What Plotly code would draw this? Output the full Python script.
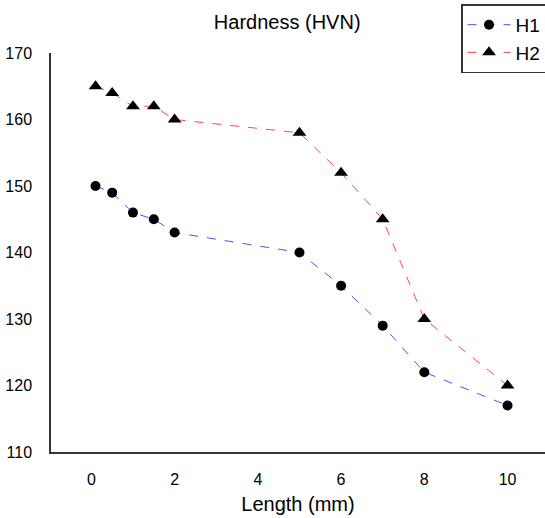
import plotly.graph_objects as go

length_mm = [0.1, 0.5, 1, 1.5, 2, 5, 6, 7, 8, 10]
h1 = [150, 149, 146, 145, 143, 140, 135, 129, 122, 117]
h2 = [165, 164, 162, 162, 160, 158, 152, 145, 130, 120]

fig = go.Figure()
fig.add_trace(go.Scatter(
    x=length_mm, y=h1, name="H1", mode="lines+markers",
    line=dict(color="rgb(80,80,255)", width=1, dash="dash"),
    marker=dict(symbol="circle", size=10, color="black"),
))
fig.add_trace(go.Scatter(
    x=length_mm, y=h2, name="H2", mode="lines+markers",
    line=dict(color="rgb(255,70,70)", width=1, dash="dash"),
    marker=dict(symbol="triangle-up", size=12, color="black"),
))

fig.update_layout(
    width=545, height=518,
    margin=dict(l=51, r=0, t=53, b=66, autoexpand=False),
    paper_bgcolor="white", plot_bgcolor="white",
    font=dict(family="Liberation Sans, Arial, sans-serif", color="black"),
    title=dict(text="Hardness (HVN)", x=0.527, xanchor="center", y=0.957, yanchor="middle",
               font=dict(size=20, color="black")),
    legend=dict(x=0.83, xanchor="left", y=1.122, yanchor="top",
                bordercolor="#333", borderwidth=1.5, bgcolor="white",
                font=dict(size=19), tracegroupgap=0, itemwidth=43),
    xaxis=dict(range=[-0.97, 10.9], tickvals=[0, 2, 4, 6, 8, 10], showgrid=False,
               zeroline=False, showline=True, linecolor="#333", linewidth=1.5,
               ticks="", tickfont=dict(size=16), ticklabelstandoff=12,
               automargin=False,
               title=dict(text="Length (mm)", font=dict(size=20), standoff=10)),
    yaxis=dict(range=[110, 170], tickvals=[110, 120, 130, 140, 150, 160, 170], showgrid=False,
               zeroline=False, showline=True, linecolor="#333", linewidth=1.5,
               ticks="", tickfont=dict(size=16), ticklabelstandoff=14,
               automargin=False),
)

fig.write_html("out.html", config={"displayModeBar": False},
               post_script="document.body.style.margin='0';")
